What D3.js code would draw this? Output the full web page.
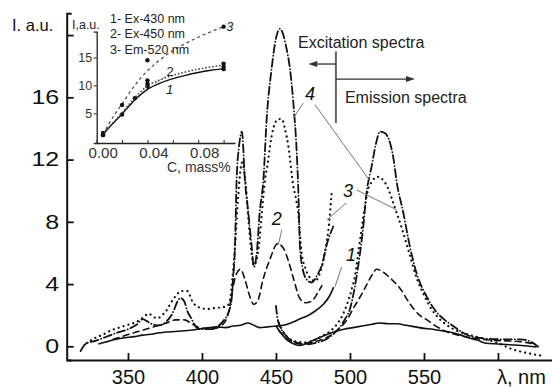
<!DOCTYPE html>
<html>
<head>
<meta charset="utf-8">
<script src="https://cdn.jsdelivr.net/npm/d3@7"></script>
<style>
  body { margin: 0; background: #fff; }
  svg { display: block; font-family: "Liberation Sans", Arial, sans-serif; }
</style>
</head>
<body>
<svg id="chart" width="552" height="387"></svg>
<script>
// ---- main chart data: [wavelength nm, intensity a.u.] ----
var ex1 = [[330,0.15],[336,0.3],[342,0.45],[348,0.55],[354,0.62],[360,0.72],[365,0.77],[370,0.85],[376,0.92],[382,0.95],[388,1.0],[394,1.05],[399,1.13],[405,1.2],[410,1.25],[416,1.2],[421,1.3],[426,1.35],[431,1.5],[435,1.35],[439,1.2],[444,1.25],[450,1.3],[455,1.35],[460,1.5],[466,1.75],[472,2.0],[477,2.3],[482,2.7],[486,3.2],[489,3.8]];
var em1 = [[450,1.3],[453,0.9],[457,0.45],[461,0.2],[466,0.05],[472,0.25],[478,0.5],[484,0.75],[490,0.95],[496,1.1],[502,1.2],[508,1.3],[514,1.4],[520,1.5],[526,1.45],[532,1.45],[538,1.35],[544,1.25],[550,1.15],[556,1.1],[562,1.0],[568,0.9],[574,0.75],[580,0.55],[586,0.4],[592,0.2],[600,0.15],[608,0.1],[616,0.05],[626,-0.05]];

var ex2 = [[340,0.45],[345,0.6],[355,0.9],[362,1.1],[369,1.3],[376,1.5],[382,1.7],[388,1.7],[394,1.4],[400,1.15],[408,1.15],[414,1.4],[418,2.2],[421,3.8],[423,4.6],[426,4.95],[429,4.3],[432,3.3],[435,2.7],[438,3.0],[441,4.2],[446,5.6],[451,6.6],[455,6.3],[458,5.6],[462,4.3],[466,3.1],[470,2.8],[474,2.9],[478,3.4],[481,3.9]];
var em2 = [[452,1.0],[457,0.5],[462,0.25],[468,0.15],[474,0.25],[480,0.4],[486,0.65],[491,1.0],[495,1.35],[498,1.7],[502,2.4],[507,3.2],[511,3.9],[515,4.6],[518,4.95],[522,4.8],[527,4.4],[534,3.7],[540,2.8],[547,2.0],[552,1.7],[558,1.3],[565,0.95],[574,0.7],[585,0.5],[595,0.4],[605,0.35],[615,0.3],[625,0.15]];

var ex3 = [[322,0.2],[327,0.5],[333,0.75],[338,1.0],[344,1.2],[349,1.35],[354,1.5],[358,1.7],[362,2.0],[364,2.1],[367,1.9],[370,1.8],[373,2.0],[376,2.3],[379,2.8],[382,3.2],[386,3.55],[390,3.55],[394,2.8],[398,2.5],[403,2.4],[408,2.45],[413,2.5],[417,2.6],[419,3.0],[420.5,4.3],[422.3,6.4],[424.5,9.7],[427,11.8],[429.5,10.5],[431.5,8.0],[433.5,6.0],[435,5.2],[437,5.6],[438.5,6.5],[440.5,8.6],[442.6,10.7],[444.5,11.8],[446,12.9],[448.2,14.0],[451.6,14.6],[454,14.6],[456,14.0],[458.3,12.9],[461.7,10.3],[463.5,9.5],[465,8.6],[467.3,6.0],[469.6,5.1],[473,4.4],[476.4,4.2],[480,4.8],[483,6.0],[486,8.0],[487.6,9.9]];
var em3 = [[452,1.5],[455,0.9],[459,0.5],[464,0.3],[470,0.25],[476,0.4],[482,0.7],[487,1.0],[491,1.4],[495,2.0],[498,2.7],[501,3.6],[503.5,4.6],[506,6.3],[509,8.3],[512,10.0],[515,10.6],[518,10.9],[521,10.8],[525,10.3],[530,9.0],[535,7.6],[540,6.0],[545,4.4],[550,3.3],[555,2.4],[560,1.8],[565,1.4],[570,1.1],[580,0.75],[590,0.5],[600,0.2],[610,-0.2],[618,-0.4],[630,-0.6]];

var ex4 = [[318,-0.3],[322,0.2],[328,0.35],[335,0.6],[342,0.85],[350,1.1],[356,1.4],[360,1.75],[363,1.6],[367,1.4],[371,1.35],[376,1.6],[381,2.3],[383,2.8],[385.5,3.1],[388,2.9],[390,2.3],[393,1.75],[396.5,1.2],[400,1.1],[406,1.1],[411,1.3],[415,1.7],[418,2.2],[420,3.0],[421,4.3],[422.3,6.4],[423.4,10.7],[425,12.8],[427,13.8],[429,10.7],[431.3,8.6],[433.6,6.4],[435.1,5.1],[437,6.0],[439,8.6],[441.5,10.7],[443.7,14.6],[447,17.8],[450,19.8],[452.7,20.4],[455,20.0],[457,19.2],[459.5,17.8],[461.7,15.7],[464,12.5],[465,10.3],[466.2,6.4],[468,5.0],[470,4.4],[474,4.1],[478,4.6],[481,5.2],[484.2,6.5],[488.7,7.7]];
var em4 = [[450,2.6],[451,1.8],[452.7,1.3],[457,0.66],[464,0.24],[471,0.13],[478,0.25],[484,0.45],[489,0.8],[493,1.2],[497,1.8],[500,2.4],[503.4,3.9],[506.8,6.0],[509,7.7],[511,9.7],[514.7,11.6],[517.5,13.0],[520.3,13.8],[523.5,13.7],[527,13.1],[529.5,12.0],[531.5,10.6],[536,8.6],[540.5,6.4],[545,4.7],[551.8,3.2],[558.5,2.2],[564,1.7],[569.8,1.3],[575,0.95],[581,0.66],[592,0.5],[604,0.45],[615,0.45],[622,0.3],[628,-0.1]];

var xTicks = [350, 400, 450, 500, 550, 600];
var yTicks = [0, 4, 8, 12, 16, 20];

// ---- inset data: [C mass%, intensity] ----
var insetLegend = ["1- Ex-430 nm", "2- Ex-450 nm", "3- Em-520 nm"];
var pts1 = [[0.005,1.1],[0.02,4.8],[0.03,7.7],[0.04,9.8],[0.1,12.9]];
var pts2 = [[0.005,1.5],[0.04,10.3],[0.04,10.9],[0.1,13.4],[0.1,13.9]];
var pts3 = [[0.005,1.2],[0.02,6.5],[0.04,14.5],[0.1,20.5]];
var fit1 = [[0.005,1.2],[0.01,2.5],[0.02,4.9],[0.03,7.4],[0.04,9.3],[0.05,10.4],[0.06,11.2],[0.07,11.8],[0.08,12.3],[0.09,12.7],[0.1,13.0]];
var fit2 = [[0.005,1.4],[0.02,5.1],[0.03,7.8],[0.04,9.9],[0.05,11.0],[0.06,11.8],[0.07,12.4],[0.08,12.9],[0.09,13.3],[0.1,13.6]];
var fit3 = [[0.005,1.2],[0.01,3.3],[0.02,6.7],[0.03,10.0],[0.04,12.6],[0.05,14.6],[0.06,16.2],[0.07,17.5],[0.08,18.6],[0.09,19.6],[0.1,20.5]];
var insetXTicks = [0, 0.02, 0.04, 0.06, 0.08, 0.1];
var insetYTicks = [5, 10, 15];

var ink = "#111";
var svg = d3.select("#chart");

// scales
var x = d3.scaleLinear().domain([308.6, 636.5]).range([66.7, 552]);
var y = d3.scaleLinear().domain([-0.88, 21.4]).range([360, 13.3]);

var line = d3.line()
    .x(d => x(d[0]))
    .y(d => y(d[1]))
    .curve(d3.curveMonotoneX);

var spectra = [
    { ex: ex1, em: em1, dash: null, w: 1.6 },
    { ex: ex2, em: em2, dash: "6,4.5", w: 1.6 },
    { ex: ex3, em: em3, dash: "0.1,5", w: 2.2 },
    { ex: ex4, em: em4, dash: "8,3,0.1,3", w: 1.8 }
];

spectra.forEach(function (s) {
    [s.ex, s.em].forEach(function (arr) {
        svg.append("path")
            .datum(arr)
            .attr("d", line)
            .attr("fill", "none")
            .attr("stroke", ink)
            .attr("stroke-width", s.w)
            .attr("stroke-linecap", s.dash ? "round" : "butt")
            .attr("stroke-linejoin", "round")
            .attr("stroke-dasharray", s.dash);
    });
});

// main axes (ticks point inward)
var gx = svg.append("g")
    .attr("transform", "translate(0," + y.range()[0] + ")")
    .call(d3.axisBottom(x).tickValues(xTicks).tickSizeInner(-7).tickSizeOuter(0).tickPadding(10)
        .tickFormat(d => d === 600 ? "" : d));
var gy = svg.append("g")
    .attr("transform", "translate(" + x.range()[0] + ",0)")
    .call(d3.axisLeft(y).tickValues(yTicks).tickSizeInner(-7).tickSizeOuter(-5).tickPadding(6)
        .tickFormat(d => d === 20 ? "" : d));

[gx, gy].forEach(function (g) {
    g.select(".domain").attr("stroke", ink).attr("stroke-width", 2);
    g.selectAll(".tick line").attr("stroke", ink).attr("stroke-width", 1.8);
    g.selectAll(".tick text").attr("fill", ink).attr("font-size", 20).attr("font-family", "Liberation Sans, Arial, sans-serif");
});
gy.selectAll(".tick text").attr("transform", "scale(1.25,1)");

svg.append("text").attr("x", 497).attr("y", 384).attr("font-size", 20).attr("fill", ink).text("λ, nm");
svg.append("text").attr("x", 12).attr("y", 31).attr("font-size", 16.5).attr("fill", ink).text("I. a.u.");

// curve number labels with leader lines (data coordinates)
var numLabels = [
    { t: "4", at: [473.0, 16.22], lines: [[[468.5, 15.63], [461.7, 14.66]], [[476.4, 15.52], [513.5, 10.63]]] },
    { t: "3", at: [498.6, 9.99], lines: [[[497.3, 9.2], [484.3, 8.12]], [[504.5, 10.05], [531.6, 8.77]]] },
    { t: "2", at: [450.5, 8.19], lines: [[[453.9, 7.48], [451.6, 6.51]]] },
    { t: "1", at: [500.7, 5.87], lines: [[[494.4, 5.12], [489.9, 3.83]]] }
];
numLabels.forEach(function (l) {
    l.lines.forEach(function (seg) {
        svg.append("line")
            .attr("x1", x(seg[0][0])).attr("y1", y(seg[0][1]))
            .attr("x2", x(seg[1][0])).attr("y2", y(seg[1][1]))
            .attr("stroke", "#777").attr("stroke-width", 1);
    });
    svg.append("text")
        .attr("x", x(l.at[0])).attr("y", y(l.at[1]) + 6)
        .attr("text-anchor", "middle")
        .attr("font-size", 18).attr("font-style", "italic")
        .attr("fill", ink)
        .text(l.t);
});

// excitation / emission marker
var split = 490.5;
svg.append("line")
    .attr("x1", x(split)).attr("x2", x(split))
    .attr("y1", y(18.95)).attr("y2", y(14.34))
    .attr("stroke", "#666").attr("stroke-width", 2);

function arrow(from, to, yv) {
    var dir = to > from ? 1 : -1;
    var x2 = x(to), yy = y(yv);
    svg.append("line")
        .attr("x1", x(from)).attr("x2", x2 - dir * 6)
        .attr("y1", yy).attr("y2", yy)
        .attr("stroke", "#333").attr("stroke-width", 1.3);
    svg.append("path")
        .attr("d", "M" + x2 + "," + yy + "L" + (x2 - dir * 9) + "," + (yy - 3) + "L" + (x2 - dir * 9) + "," + (yy + 3) + "Z")
        .attr("fill", "#333");
}
arrow(split, 471.8, 18.14);
arrow(split, 543.9, 17.17);

svg.append("text").attr("x", x(464.9)).attr("y", y(19.18)).attr("font-size", 16).attr("fill", "#222").text("Excitation spectra");
svg.append("text").attr("x", x(496.6)).attr("y", y(15.65)).attr("font-size", 16).attr("fill", "#222").text("Emission spectra");

// ---- inset ----
var xi = d3.scaleLinear().domain([0, 0.109]).range([96.7, 235]);
var yi = d3.scaleLinear().domain([-0.3, 19.6]).range([143, 31.7]);

var lineI = d3.line()
    .x(d => xi(d[0]))
    .y(d => yi(d[1]))
    .curve(d3.curveMonotoneX);

var insetSeries = [
    { fit: fit1, pts: pts1, dash: null, w: 1.4 },
    { fit: fit2, pts: pts2, dash: "1.5,2", w: 1.6 },
    { fit: fit3, pts: pts3, dash: "3,3", w: 1.2 }
];
insetSeries.forEach(function (s) {
    svg.append("path")
        .datum(s.fit)
        .attr("d", lineI)
        .attr("fill", "none")
        .attr("stroke", s.dash ? "#444" : ink)
        .attr("stroke-width", s.w)
        .attr("stroke-dasharray", s.dash);
    svg.append("g")
        .selectAll("circle")
        .data(s.pts)
        .join("circle")
        .attr("cx", d => xi(d[0]))
        .attr("cy", d => yi(d[1]))
        .attr("r", 2.2)
        .attr("fill", ink);
});

var gxi = svg.append("g")
    .attr("transform", "translate(0," + yi.range()[0] + ")")
    .call(d3.axisBottom(xi).tickValues(insetXTicks).tickSizeInner(-3).tickSizeOuter(0).tickPadding(4)
        .tickFormat(d => (Math.round(d * 100) % 4 === 0) ? d3.format(".2f")(d) : ""));
var gyi = svg.append("g")
    .attr("transform", "translate(" + xi.range()[0] + ",0)")
    .call(d3.axisLeft(yi).tickValues(insetYTicks).tickSize(3).tickPadding(1.5));

[gxi, gyi].forEach(function (g) {
    g.select(".domain").attr("stroke", "#222").attr("stroke-width", 1.3);
    g.selectAll(".tick line").attr("stroke", "#222");
    g.selectAll(".tick text").attr("fill", "#333").attr("font-family", "Liberation Sans, Arial, sans-serif");
});
gxi.selectAll(".tick text").attr("font-size", 15).attr("dx", 6);
gyi.selectAll(".tick text").attr("font-size", 12.5);

svg.append("text").attr("x", 72).attr("y", 29).attr("font-size", 12.5).attr("fill", "#222").text("I,a.u.");
svg.append("text").attr("x", 167).attr("y", 172).attr("font-size", 14).attr("fill", "#333").text("C, mass%");

svg.append("g")
    .selectAll("text")
    .data(insetLegend)
    .join("text")
    .attr("x", 110)
    .attr("y", (d, i) => 22.6 + i * 15.5)
    .attr("font-size", 12.5)
    .attr("fill", "#222")
    .text(d => d);

// inset curve labels
svg.append("text").attr("x", xi(0.1) + 3).attr("y", yi(20.5) + 4.5).attr("font-size", 12).attr("font-style", "italic").attr("fill", "#222").text("3");
svg.append("line")
    .attr("x1", xi(0.054)).attr("y1", yi(11.55))
    .attr("x2", xi(0.046)).attr("y2", yi(10.37))
    .attr("stroke", "#777").attr("stroke-width", 0.8);
svg.append("text").attr("x", xi(0.0579)).attr("y", yi(12.45) + 4.5).attr("text-anchor", "middle").attr("font-size", 13).attr("fill", "#222").text("2");
svg.append("text").attr("x", xi(0.0575)).attr("y", yi(9.18) + 4.5).attr("text-anchor", "middle").attr("font-size", 13).attr("font-style", "italic").attr("fill", "#222").text("1");
</script>
</body>
</html>
